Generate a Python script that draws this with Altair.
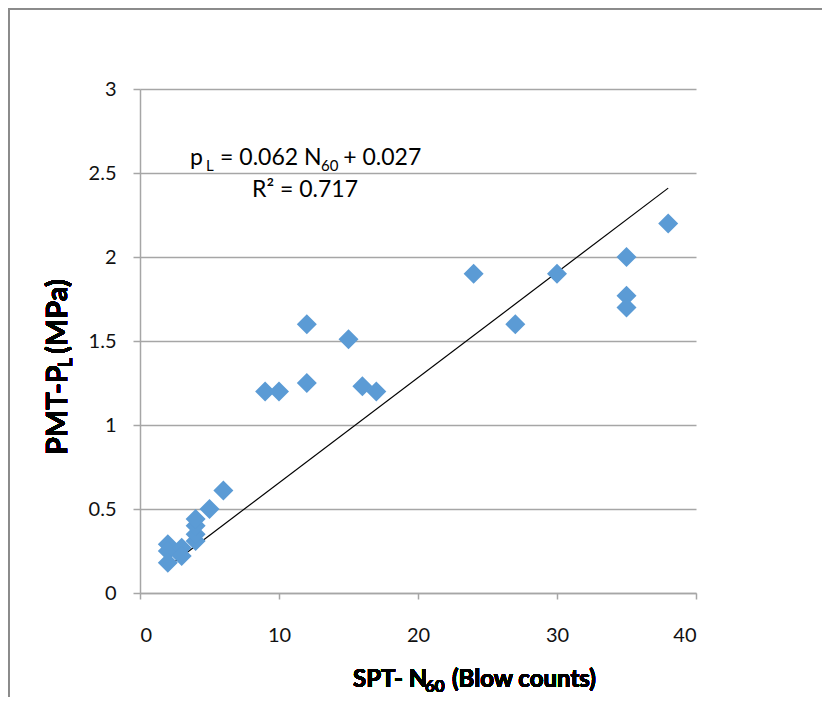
import altair as alt
import pandas as pd

# ---- data ----
spt_n60 = [2, 2, 2, 3, 3, 4, 4, 4, 4, 5, 6, 9, 10, 12, 12, 15, 16, 17, 24, 27, 30, 35, 35, 35, 38]
pmt_pl = [0.29, 0.25, 0.18, 0.27, 0.22, 0.31, 0.35, 0.40, 0.44, 0.50, 0.61, 1.20, 1.20, 1.25, 1.60,
          1.51, 1.23, 1.20, 1.90, 1.60, 1.90, 2.00, 1.77, 1.70, 2.20]
trend_n60 = [2, 38]
trend_pl = [0.155, 2.41]
x_ticks = [0, 10, 20, 30, 40]
y_ticks = [0, 0.5, 1, 1.5, 2, 2.5, 3]

eq_parts = ["p", "L", "= 0.062 N", "60", "+ 0.027"]
r2_text = "R² = 0.717"
x_title_parts = ["SPT- N", "60", "(Blow counts)"]
y_title_parts = ["PMT-P", "L", "(MPa)"]

pts = pd.DataFrame({"n60": spt_n60, "pl": pmt_pl})
tr = pd.DataFrame({"n60": trend_n60, "pl": trend_pl})

W, H = 556, 504
FONT = "Lato"
GRID = "#a6a6a6"

xs = alt.Scale(domain=[0, 40], nice=False)
ys = alt.Scale(domain=[0, 3], nice=False)

points = alt.Chart(pts).mark_point(
    shape="diamond", filled=True, size=400, color="#5B9BD5", opacity=1
).encode(
    x=alt.X("n60:Q", scale=xs, axis=alt.Axis(values=x_ticks, grid=False, title=None,
                                              tickSize=6, labelPadding=26)),
    y=alt.Y("pl:Q", scale=ys, axis=alt.Axis(values=y_ticks, grid=True, title=None, format="~g",
                                             tickSize=7, labelPadding=17)),
)

trend = alt.Chart(tr).mark_line(color="black", strokeWidth=1.2).encode(
    x=alt.X("n60:Q", scale=xs), y=alt.Y("pl:Q", scale=ys)
)

# equation annotation (anchored in data coordinates)
ann = pd.DataFrame({
    "text": eq_parts + [r2_text],
    "x": [3.6, 4.75, 5.76, 13.02, 14.62, 8.06],
    "y": [2.548, 2.512, 2.548, 2.512, 2.548, 2.357],
    "size": [23, 15, 23, 15, 23, 23],
})
annot = alt.Chart(ann).mark_text(align="left", baseline="alphabetic", font=FONT, color="black").encode(
    x=alt.X("x:Q", scale=xs), y=alt.Y("y:Q", scale=ys), text="text:N",
    size=alt.Size("size:Q", scale=None),
)


def label(txt, x, y, size, angle=0, bold=True):
    kw = dict(align="left", baseline="alphabetic", font=FONT, fontSize=size,
              fontWeight="bold" if bold else "normal", color="black", text=txt)
    if angle:
        kw["angle"] = angle
    return alt.Chart(pts).mark_text(**kw).encode(x=alt.value(x), y=alt.value(y))


x_title = [
    label(x_title_parts[0], 213, 598, 24),
    label(x_title_parts[1], 285, 603, 17),
    label(x_title_parts[2], 312, 598, 24),
]
y_title = [
    label(y_title_parts[0], -73, 366, 29, angle=270),
    label(y_title_parts[1], -68, 278, 18, angle=270),
    label(y_title_parts[2], -73, 265, 29, angle=270),
]

frame_left = alt.Chart(pts).mark_rule(color="#8a8a8a", strokeWidth=1.5).encode(
    x=alt.value(-131.5), y=alt.value(-81), y2=alt.value(H + 110)
)
frame_top = alt.Chart(pts).mark_rule(color="#8a8a8a", strokeWidth=1.5).encode(
    y=alt.value(-80.5), x=alt.value(-132), x2=alt.value(W + 130)
)

chart = alt.layer(
    frame_left, frame_top, trend, points, annot, *x_title, *y_title
).properties(
    width=W, height=H,
    autosize=alt.AutoSizeParams(type="none"),
    padding={"left": 132, "top": 81, "right": 126, "bottom": 104},
).configure_view(stroke=None).configure_axis(
    domainColor=GRID, domainWidth=1.5, tickColor=GRID, tickWidth=1.5,
    gridColor=GRID, gridWidth=1.5, labelFont=FONT, labelFontSize=20, labelColor="#111111",
)

chart.save("out.html", embed_options={"renderer": "svg", "actions": False})
